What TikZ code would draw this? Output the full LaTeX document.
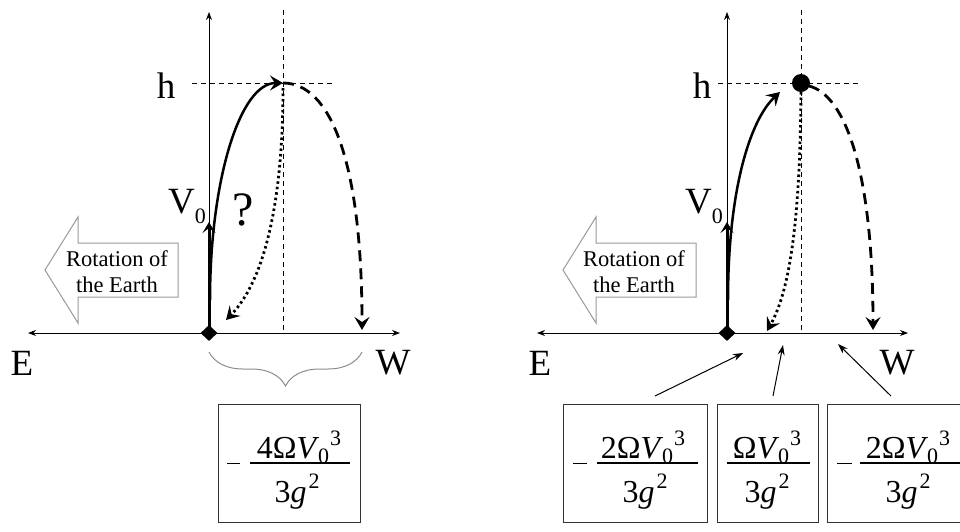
\documentclass[tikz,border=0pt]{standalone}
\usepackage{fontspec}
\setmainfont{Liberation Serif}
\usetikzlibrary{arrows.meta,shapes.geometric,decorations.pathreplacing}
\newcommand{\subsz}{\fontsize{22}{22}\selectfont}
\newcommand{\labsz}{\fontsize{37}{37}\selectfont}
\newcommand{\fracsz}{\fontsize{32}{32}\selectfont}
\newcommand{\rotsz}{\fontsize{22.5}{22.5}\selectfont}
\newcommand{\Vzt}{\textit{V}\kern-1pt\raisebox{-5pt}{\subsz 0}\kern1pt\raisebox{13pt}{\subsz 3}}
\newcommand{\tgt}{3\textit{g}\kern2pt\raisebox{14pt}{\subsz 2}}
\begin{document}
\begin{tikzpicture}[x=1pt,y=-1pt,
  axisline/.style={line width=0.8pt},
  axtip/.style={-{Stealth[length=8pt,width=6pt]}},
  guide/.style={line width=0.8pt, dash pattern=on 5pt off 4pt},
  trajtip/.style={-{Stealth[length=13pt,width=15pt,inset=5pt]}},
  solidtraj/.style={line width=2.5pt, trajtip},
  dashtraj/.style={line width=2.8pt, dash pattern=on 11pt off 7pt, trajtip},
  dottraj/.style={line width=2.8pt, dash pattern=on 2.5pt off 3pt, trajtip},
  vzero/.style={line width=3pt, -{Stealth[length=11pt,width=13pt,inset=5pt]}},
  lab/.style={font=\labsz, inner sep=0pt},
  rottext/.style={font=\rotsz, inner sep=0pt, anchor=base},
  blockarrow/.style={draw=gray!80, line width=1pt, fill=white},
  fbox/.style={draw=black!80, line width=1pt, inner sep=0pt},
  fracpart/.style={font=\fracsz, inner sep=0pt, anchor=base},
  fracbar/.style={line width=1.6pt},
  minus/.style={line width=1pt},
  pointer/.style={line width=1pt, -{Stealth[length=10pt,width=7pt]}},
  origin/.style={shape=diamond, fill=black, minimum width=17pt, minimum height=16pt, inner sep=0pt},
  bracestyle/.style={draw=gray!90, line width=1pt, decorate, decoration={brace, amplitude=34pt, mirror}}
]
\useasboundingbox (0,0) rectangle (960,531);
\fill[white] (0,0) rectangle (960,531);

%%%%%%%%%%%%%%%% LEFT PANEL %%%%%%%%%%%%%%%%
\coordinate (LaxL) at (28,333);
\coordinate (LaxR) at (400,333);
\coordinate (Ltop) at (209,12);
\coordinate (Lgvt) at (283,10);
\coordinate (Lgvb) at (283,333);
\coordinate (Lght) at (192,83);
\coordinate (Lghr) at (333,83);
\coordinate (Lv0) at (209,222);
\coordinate (Lcs) at (210,300);
\coordinate (Lpeak) at (283,83);
\coordinate (Ldashend) at (362,330);
\coordinate (Ldots) at (283,88);
\coordinate (Ldotend) at (226,320);
\coordinate (LbrA) at (209,352);
\coordinate (LbrB) at (362,352);

\draw[guide] (Lgvt) -- (Lgvb);
\draw[guide] (Lght) -- (Lghr);
\draw[axisline, axtip] (209,333) -- (Ltop);
\draw[axisline, {Stealth[length=8pt,width=6pt]}-{Stealth[length=8pt,width=6pt]}] (LaxL) -- (LaxR);

% block arrow
\draw[blockarrow] (45,270) -- (78,217) -- (78,243) -- (178,243) -- (178,297) -- (78,297) -- (78,323) -- cycle;
\node[rottext] (Lrot1) at (117,266) {Rotation of};
\node[rottext] (Lrot2) at (117,292) {the Earth};

% trajectories
\draw[solidtraj] (Lcs) .. controls (210,180) and (240,83) .. (Lpeak);
\draw[dashtraj] (Lpeak) .. controls (330,83) and (362,160) .. (Ldashend);
\draw[dottraj] (Ldots) .. controls (283,200) and (265,280) .. (Ldotend);
\node[origin] (Lorig) at (209,333) {};
\draw[vzero] (Lorig.center) -- (Lv0);

% labels
\node[lab, anchor=base] (Lh) at (166,98) {h};
\node[lab, anchor=base] (LE) at (22,375) {E};
\node[lab, anchor=base] (LW) at (393,374) {W};
\node[lab, anchor=base west] (LV) at (168,213) {V\raisebox{-10pt}{\subsz 0}};
\node[font=\fontsize{48}{48}\selectfont, inner sep=0pt, anchor=base] (Lq) at (243,225) {?};

% brace
\draw[bracestyle] (LbrA) -- (LbrB);

% box
\node[fbox, minimum width=142pt, minimum height=118pt] (LB) at (289,463) {};
\node[fracpart] (LBn) at (299,458) {4Ω\Vzt};
\node[fracpart] (LBd) at (297,502) {\tgt};
\draw[fracbar] (250,463) -- (350,463);
\draw[minus] (227,463) -- (240,463);

%%%%%%%%%%%%%%%% RIGHT PANEL %%%%%%%%%%%%%%%%
\coordinate (RaxL) at (537,333);
\coordinate (RaxR) at (908,333);
\coordinate (Rtop) at (727,12);
\coordinate (Rgvt) at (801,10);
\coordinate (Rgvb) at (801,333);
\coordinate (Rght) at (718,83);
\coordinate (Rghr) at (860,83);
\coordinate (Rv0) at (727,222);
\coordinate (Rcs) at (728,300);
\coordinate (Rcend) at (780,92);
\coordinate (Rdashs) at (809,86);
\coordinate (Rdashend) at (873,330);
\coordinate (Rdots) at (801,92);
\coordinate (Rdotend) at (767,331);

\draw[guide] (Rgvt) -- (Rgvb);
\draw[guide] (Rght) -- (Rghr);
\draw[axisline, axtip] (727,333) -- (Rtop);
\draw[axisline, {Stealth[length=8pt,width=6pt]}-{Stealth[length=8pt,width=6pt]}] (RaxL) -- (RaxR);

\draw[blockarrow] (563,270) -- (596,217) -- (596,243) -- (696,243) -- (696,297) -- (596,297) -- (596,323) -- cycle;
\node[rottext] (Rrot1) at (634,266) {Rotation of};
\node[rottext] (Rrot2) at (634,292) {the Earth};

\draw[solidtraj] (Rcs) .. controls (728,190) and (750,120) .. (Rcend);
\draw[dashtraj] (Rdashs) .. controls (845,95) and (873,170) .. (Rdashend);
\draw[dottraj] (Rdots) .. controls (800,220) and (790,290) .. (Rdotend);
\node[circle, fill=black, minimum size=18pt, inner sep=0pt] (Rball) at (801,83) {};
\node[origin] (Rorig) at (727,333) {};
\draw[vzero] (Rorig.center) -- (Rv0);

\node[lab, anchor=base] (Rh) at (702,98) {h};
\node[lab, anchor=base] (RE) at (540,375) {E};
\node[lab, anchor=base] (RW) at (897,374) {W};
\node[lab, anchor=base west] (RV) at (685,213) {V\raisebox{-10pt}{\subsz 0}};

% boxes
\node[fbox, minimum width=144pt, minimum height=118pt] (RB1) at (635,463) {};
\node[fracpart] (RB1n) at (643,458) {2Ω\Vzt};
\node[fracpart] (RB1d) at (645,502) {\tgt};
\draw[fracbar] (597,463) -- (698,463);
\draw[minus] (573,463) -- (587,463);

\node[fbox, minimum width=101pt, minimum height=118pt] (RB2) at (767.5,463) {};
\node[fracpart] (RB2n) at (767,458) {Ω\Vzt};
\node[fracpart] (RB2d) at (767,502) {\tgt};
\draw[fracbar] (727,463) -- (810,463);

\node[fbox, minimum width=142pt, minimum height=118pt] (RB3) at (898,463) {};
\node[fracpart] (RB3n) at (908,458) {2Ω\Vzt};
\node[fracpart] (RB3d) at (908,502) {\tgt};
\draw[fracbar] (860,463) -- (965,463);
\draw[minus] (837,463) -- (852,463);

% pointers
\coordinate (P1s) at (655,396); \coordinate (P1e) at (743,353);
\coordinate (P2s) at (773,396); \coordinate (P2e) at (783,345);
\coordinate (P3s) at (891,396); \coordinate (P3e) at (838,344);
\draw[pointer] (P1s) -- (P1e);
\draw[pointer] (P2s) -- (P2e);
\draw[pointer] (P3s) -- (P3e);
\end{tikzpicture}
\end{document}
